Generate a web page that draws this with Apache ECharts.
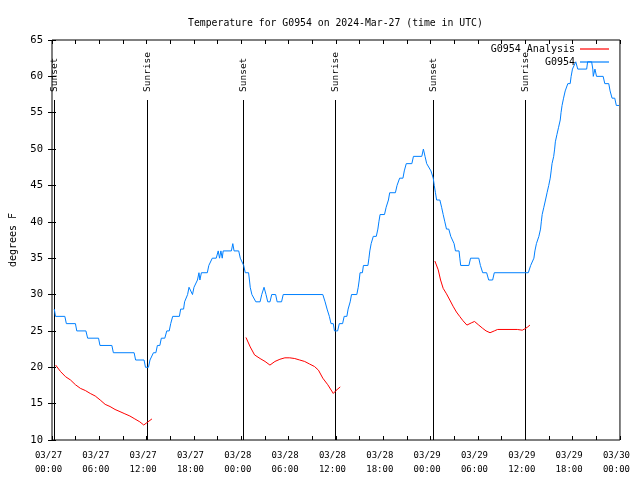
<!DOCTYPE html>
<html><head><meta charset="utf-8">
<script src="https://cdn.jsdelivr.net/npm/echarts@6/dist/echarts.min.js"></script>
<style>html,body{margin:0;padding:0;background:#fff}#c{width:640px;height:480px}</style>
</head><body><div id="c"></div>
<script>
// hours since 2024-03-27 00:00 UTC
const xTickLabels = ['03/27\n00:00','03/27\n06:00','03/27\n12:00','03/27\n18:00','03/28\n00:00','03/28\n06:00','03/28\n12:00','03/28\n18:00','03/29\n00:00','03/29\n06:00','03/29\n12:00','03/29\n18:00','03/30\n00:00'];

const obsHours = [0.29,0.44,1.63,1.82,2.97,3.14,4.30,4.52,5.90,6.08,7.59,7.78,10.41,10.60,11.67,11.85,12.23,12.42,12.67,12.86,13.17,13.36,13.67,13.86,14.30,14.55,14.86,15.05,15.30,16.15,16.31,16.68,16.81,17.06,17.19,17.37,17.62,17.81,18.00,18.25,18.44,18.63,18.75,18.94,19.69,19.88,20.13,20.32,20.82,21.07,21.24,21.41,21.58,21.70,22.74,22.92,23.08,23.67,23.87,24.30,24.50,24.92,25.03,25.13,25.34,25.59,25.84,26.38,26.59,26.88,27.13,27.35,27.64,27.85,28.35,28.54,29.10,29.31,34.33,34.62,34.87,35.16,35.37,35.66,35.81,36.21,36.42,36.84,37.04,37.38,37.54,37.80,37.97,38.64,38.82,38.95,39.05,39.35,39.48,40.05,40.18,40.29,40.46,40.73,41.11,41.31,41.44,41.59,42.15,42.36,42.65,42.81,43.53,43.74,44.07,44.49,44.66,44.91,45.62,45.82,46.88,47.08,47.29,47.50,47.70,48.04,48.33,48.46,48.61,48.76,49.17,49.39,49.59,49.80,50.01,50.30,50.55,50.72,50.97,51.15,51.60,51.70,51.81,52.85,53.06,54.10,54.31,54.60,55.10,55.36,55.86,56.07,60.38,60.68,60.88,61.09,61.22,61.41,61.72,61.93,62.03,62.14,62.35,62.56,62.76,62.97,63.16,63.28,63.39,63.60,63.72,63.81,64.01,64.22,64.43,64.53,64.66,64.85,65.06,65.39,65.69,65.81,65.98,66.40,66.65,67.78,67.90,68.41,68.56,68.62,68.83,69.03,69.87,70.08,70.58,70.75,71.00,71.34,71.54,71.88];
const obsTemps = [28,27,27,26,26,25,25,24,24,23,23,22,22,21,21,20,20,21,21,22,22,23,23,24,24,25,25,26,27,27,28,28,29,29,30,31,31,30,31,31,32,33,32,33,33,34,34,35,35,36,35,36,35,36,36,37,36,36,35,34,33,33,32,31,30,30,29,29,30,31,30,29,29,30,30,29,29,30,30,29,28,27,26,26,25,25,26,26,27,27,28,29,30,30,31,32,33,33,34,34,35,36,37,38,38,39,40,41,41,42,43,44,44,45,46,46,47,48,48,49,49,50,49,48,48,47,46,45,44,43,43,42,41,40,39,39,38,38,37,36,36,35,34,34,35,35,34,33,33,32,32,33,33,34,34,35,36,37,38,39,40,41,42,43,44,45,46,47,48,49,50,51,52,53,54,55,56,57,58,59,59,60,61,62,61,61,62,62,61,60,61,60,60,59,59,58,57,57,56,56];

const anaHours = [0.46,1.09,1.72,2.35,2.97,3.60,4.23,4.85,5.48,6.11,6.74,7.36,7.99,8.62,9.24,9.87,10.50,11.13,11.63,12.17,12.67,null,
  24.59,25.13,25.68,26.38,27.01,27.63,28.26,28.89,29.52,30.14,30.77,31.40,32.03,32.65,33.28,33.78,34.33,34.96,35.66,36.00,36.54,null,
  48.54,48.96,49.26,49.59,50.01,50.43,50.84,51.27,51.68,52.10,52.60,53.15,53.56,54.10,54.60,55.03,55.53,56.07,56.49,58.99,59.21,59.62,59.96,60.25,60.59];
const anaTemps = [20.3,19.4,18.7,18.25,17.6,17.1,16.8,16.4,16.05,15.5,14.9,14.6,14.2,13.9,13.6,13.3,12.9,12.5,12.06,12.5,12.9,null,
  24.1,22.8,21.7,21.2,20.8,20.3,20.8,21.1,21.3,21.3,21.2,21.0,20.8,20.45,20.1,19.6,18.5,17.6,16.4,16.8,17.3,null,
  34.6,33.4,32.0,30.85,30.1,29.25,28.4,27.6,27.0,26.4,25.8,26.1,26.3,25.8,25.35,25.0,24.75,25.0,25.2,25.2,25.1,25.1,25.3,25.5,25.8];

const sunHours = [0.29, 11.98, 24.25, 35.92, 48.33, 60.0];
const sunLabels = ['Sunset','Sunrise','Sunset','Sunrise','Sunset','Sunrise'];

const FONT = '"DejaVu Sans Mono", "Liberation Mono", monospace';
const chart = echarts.init(document.getElementById('c'));
const tickCommon = {inside:true, length:4, lineStyle:{color:'#000', width:1}};
const option = {
  animation: false,
  backgroundColor: '#fff',
  title: {text:'Temperature for G0954 on 2024-Mar-27 (time in UTC)', left:183, top:13,
    textStyle:{fontFamily:FONT, fontSize:9.8, fontWeight:'normal', color:'#000'}},
  legend: [
    {data:['G0954 Analysis'], right:31, top:43, padding:0, align:'right', icon:'rect', itemWidth:29, itemHeight:1.2,
     textStyle:{fontFamily:FONT, fontSize:10, color:'#000', lineHeight:12}, selectedMode:false},
    {data:['G0954'], right:31, top:56, padding:0, align:'right', icon:'rect', itemWidth:29, itemHeight:1.2,
     textStyle:{fontFamily:FONT, fontSize:10, color:'#000', lineHeight:12}, selectedMode:false}
  ],
  grid: {left:48, right:18, top:40, bottom:40, show:true, borderColor:'#000', borderWidth:1, backgroundColor:'transparent'},
  xAxis: [
    {type:'value', min:0, max:72, interval:6, axisLine:{show:false}, splitLine:{show:false},
     axisTick:tickCommon, minorTick:{show:true, splitNumber:2, length:4, lineStyle:{color:'#000'}},
     axisLabel:{formatter:(v)=>xTickLabels[Math.round(v/6)], fontFamily:FONT, fontSize:9, color:'#000', margin:9, lineHeight:14, padding:[0,7,0,0]}},
    {type:'value', position:'top', min:0, max:72, interval:6, axisLine:{show:false}, splitLine:{show:false},
     axisTick:tickCommon, minorTick:{show:true, splitNumber:2, length:4, lineStyle:{color:'#000'}},
     axisLabel:{show:false}}
  ],
  yAxis: [
    {type:'value', min:10, max:65, interval:5, axisLine:{show:false}, splitLine:{show:false},
     axisTick:tickCommon,
     axisLabel:{fontFamily:FONT, fontSize:10.5, color:'#000', margin:9},
     name:'degrees F', nameLocation:'middle', nameGap:34,
     nameTextStyle:{fontFamily:FONT, fontSize:10, color:'#000'}},
    {type:'value', position:'right', min:10, max:65, interval:5, axisLine:{show:false}, splitLine:{show:false},
     axisTick:tickCommon, axisLabel:{show:false}}
  ],
  series: [
    {name:'G0954 Analysis', type:'line', xAxisIndex:0, yAxisIndex:0, showSymbol:false, symbol:'none',
     color:'#ff0000', lineStyle:{width:1, color:'#ff0000'}, connectNulls:false,
     data: anaHours.map((h,i)=>[h, anaTemps[i]]), z:3},
    {name:'G0954', type:'line', xAxisIndex:0, yAxisIndex:0, showSymbol:false, symbol:'none',
     color:'#0080ff', lineStyle:{width:1, color:'#0080ff'},
     data: obsHours.map((h,i)=>[h, obsTemps[i]]), z:4},
    {name:'sun', type:'custom', xAxisIndex:0, yAxisIndex:0, silent:true, clip:false, z:2,
     data: sunHours.map(h=>[h, 56.75]),
     renderItem: (params, api) => {
       const top = api.coord([api.value(0), api.value(1)]);
       const bot = api.coord([api.value(0), 10]);
       const x = Math.round(top[0]) + 0.5;
       return {type:'group', children:[
         {type:'line', shape:{x1:x, y1:top[1], x2:x, y2:bot[1]}, style:{stroke:'#000', lineWidth:1}},
         {type:'text', x:x, y:top[1]-8, rotation:Math.PI/2,
          style:{text:sunLabels[params.dataIndex], fontFamily:FONT, fontSize:9.5, fill:'#000', align:'left', verticalAlign:'middle'}}
       ]};
     }}
  ]
};
chart.setOption(option);
</script>
</body></html>
